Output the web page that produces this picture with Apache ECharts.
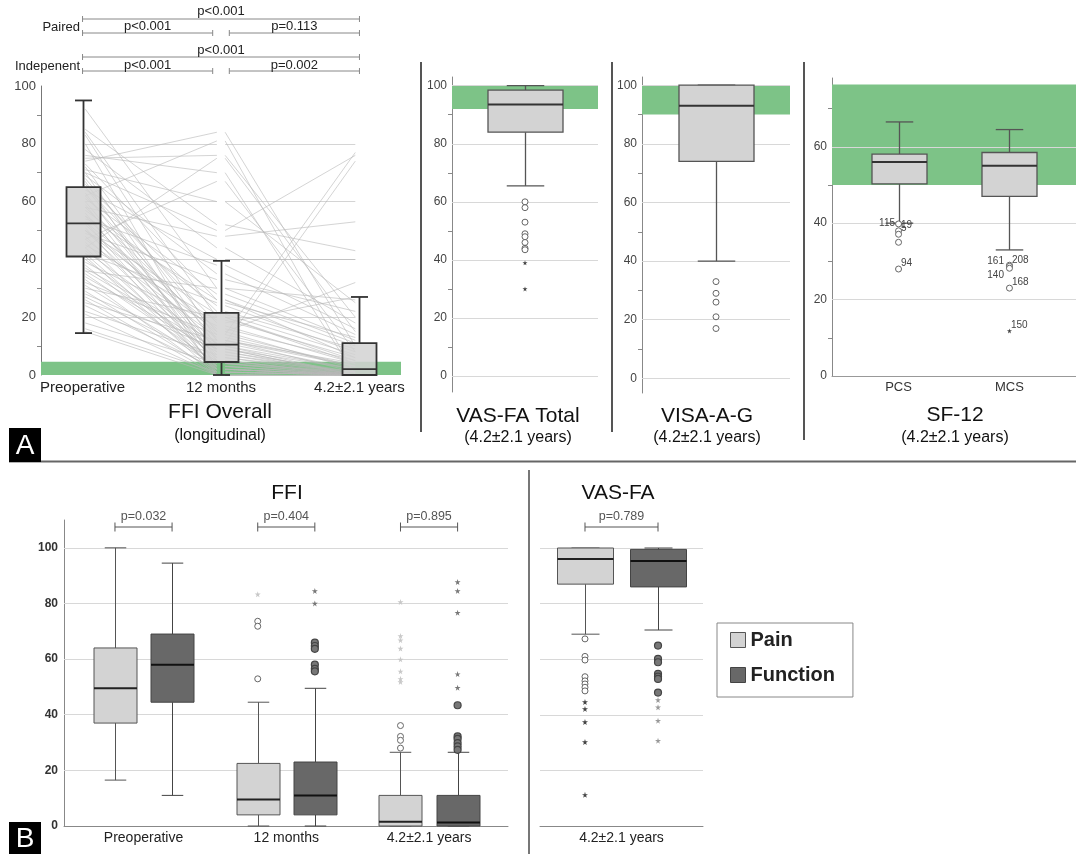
<!DOCTYPE html>
<html>
<head>
<meta charset="utf-8">
<script src="https://cdn.jsdelivr.net/npm/echarts@6/dist/echarts.min.js"></script>
<style>
  html, body { margin: 0; padding: 0; background: #fff; }
  #chart { width: 1076px; height: 854px; }
</style>
</head>
<body>
<div id="chart"></div>
<script>
// ---- data ----
const ffiTimes = ['Preoperative', '12 months', '4.2±2.1 years'];
// box stats: [min, q1, median, q3, max]
const ffiOverallBoxes = [[14.5, 41, 52.5, 65, 95], [0, 4.5, 10.5, 21.5, 39.5], [0, 0, 2, 11, 27]];
// individual patients (estimated)
const ffiPre = [92, 85, 84, 83, 80, 80, 78, 76, 75, 74, 73, 72, 71, 70, 69, 68, 67, 66, 65, 65,
  64, 63, 62, 61, 60, 60, 59, 58, 57, 56, 55, 54, 53, 53, 52, 51, 50, 50, 49, 48,
  47, 46, 45, 44, 43, 42, 41, 40, 40, 39, 38, 37, 36, 35, 34, 33, 32, 31, 30, 29,
  28, 27, 26, 25, 24, 22, 21, 20, 18, 16, 15, 58, 62, 47, 44, 55, 70, 36, 50, 42];
const ffi12m = [30, 52, 20, 12, 80, 2, 44, 70, 76, 84, 26, 10, 60, 5, 35, 15, 0, 22, 8, 18,
  40, 3, 12, 28, 60, 6, 1, 14, 24, 4, 9, 38, 2, 16, 11, 0, 21, 7, 33, 5,
  13, 1, 19, 3, 10, 25, 0, 40, 6, 17, 2, 11, 30, 4, 8, 0, 14, 3, 20, 1,
  9, 5, 0, 12, 2, 7, 0, 20, 4, 1, 0, 48, 81, 67, 75, 26, 50, 9, 15, 2];
const ffiLast = [12, 43, 4, 1, 80, 0, 18, 0, 20, 10, 6, 0, 60, 0, 14, 2, 0, 9, 0, 27,
  40, 0, 3, 11, 25, 1, 0, 77, 8, 0, 2, 16, 0, 5, 74, 0, 7, 1, 22, 0,
  3, 0, 6, 0, 2, 13, 1, 40, 0, 4, 0, 2, 26, 0, 1, 0, 3, 0, 5, 0,
  0, 0, 0, 4, 0, 0, 0, 20, 1, 0, 0, 53, 0, 8, 15, 10, 76, 0, 32, 0];
const pairedP = ['p<0.001', 'p<0.001', 'p=0.113'];
const indepP = ['p<0.001', 'p<0.001', 'p=0.002'];
const ffiMcid = [0, 4.6];

const vasTotalBox = [65.5, 84, 93.5, 98.5, 100];
const vasTotalCircles = [60, 58, 53, 49, 48, 46, 44, 43.5];
const vasTotalStars = [39, 30];
const vasTotalBand = [92, 100];

const visaBox = [40, 74, 93, 100, 100];
const visaCircles = [33, 29, 26, 21, 17];
const visaBand = [90, 100];

const sfCats = ['PCS', 'MCS'];
const sfBoxes = [[40, 50.3, 56, 58.1, 66.5], [33, 47, 55, 58.5, 64.5]];
const pcsOutliers = [39.8, 38, 37.1, 35, 28];
const pcsIds = ['115', '19', '5', '', '94'];
const mcsOutliers = [29, 28.7, 28.2, 23];
const mcsIds = ['161', '208', '140', '168'];
const mcsStars = [11.8];
const mcsStarIds = ['150'];
const sfBand = [50, 76.3];

const painBoxes = [[16.5, 37, 49.5, 64, 100], [0, 4, 9.5, 22.5, 44.5], [0, 0, 1.5, 11, 26.5]];
const funcBoxes = [[11, 44.5, 58, 69, 94.5], [0, 4, 11, 23, 49.5], [0, 0, 1.3, 11, 26.5]];
const painCircles = [[], [73.6, 71.8, 52.9], [36.1, 32.2, 30.8, 28]];
const painStars = [[], [83.3], [80.5, 68.3, 66.8, 63.8, 59.9, 55.6, 52.9, 51.8]];
const funcCircles = [[], [65.9, 64.7, 63.7, 58, 56.5, 55.6], [43.4, 32.2, 31.3, 29.8, 28.6, 27.4]];
const funcStars = [[], [84.5, 80], [87.7, 84.5, 76.7, 54.6, 49.7]];
const ffiPairP = ['p=0.032', 'p=0.404', 'p=0.895'];

const vasPainBox = [69, 87, 96, 100, 100];
const vasFuncBox = [70.5, 86, 95.3, 99.5, 100];
const vasPainCircles = [67.3, 61, 59.7, 53.7, 52.2, 51.1, 49.9, 48.6];
const vasPainStars = [44.6, 42.1, 37.4, 30.2, 11.2];
const vasFuncCircles = [64.9, 60.1, 58.9, 54.7, 53.7, 52.9, 48];
const vasFuncStars = [45.3, 42.7, 37.9, 30.7];
const vasPairP = 'p=0.789';

const labelTicks100 = [0, 20, 40, 60, 80, 100];
const minorTicks100 = [10, 30, 50, 70, 90];
const labelTicksSf = [0, 20, 40, 60];
const minorTicksSf = [10, 30, 50, 70];

// ---- drawing ----
const FONT = '"Liberation Sans", Arial, Helvetica, sans-serif';
const GREEN = '#7dc387';
const GRIDC = '#d8d8d8';
const STAR = 'path://M50 0 L61 35 L98 35 L68 57 L79 91 L50 70 L21 91 L32 57 L2 35 L39 35 Z';

const chart = echarts.init(document.getElementById('chart'));

function boxSeries(name, gi, data, o) {
  return {
    type: 'custom', name: name, xAxisIndex: gi, yAxisIndex: gi, z: 3, silent: true,
    data: data,
    encode: { x: 0, y: [1, 2, 3, 4, 5] },
    itemStyle: { color: o.fill, borderColor: o.stroke },
    renderItem: function (params, api) {
      const x = api.value(0);
      const y = [1, 2, 3, 4, 5].map(i => api.coord([x, api.value(i)])[1]);
      const cx = Math.round(api.coord([x, 0])[0]) + 0.5;
      const w = o.width, c = w / 2;
      const ln = { stroke: o.stroke, lineWidth: o.lw };
      const seg = (x1, y1, x2, y2, st) => ({ type: 'line', shape: { x1, y1, x2, y2 }, style: st || ln });
      return {
        type: 'group',
        children: [
          seg(cx, y[0], cx, y[1]),
          seg(cx, y[3], cx, y[4]),
          seg(cx - c / 2, y[0], cx + c / 2, y[0]),
          seg(cx - c / 2, y[4], cx + c / 2, y[4]),
          { type: 'rect', shape: { x: cx - w / 2, y: y[3], width: w, height: y[1] - y[3] },
            style: { fill: o.fill, stroke: o.stroke, lineWidth: o.lw } },
          seg(cx - w / 2, y[2], cx + w / 2, y[2], { stroke: o.median, lineWidth: o.mw })
        ]
      };
    }
  };
}

function points(gi, x, vals, o) {
  const s = {
    type: 'scatter', xAxisIndex: gi, yAxisIndex: gi, z: 4, silent: true,
    symbol: o.symbol, symbolSize: o.size,
    itemStyle: { color: o.fill, borderColor: o.stroke, borderWidth: o.bw || 0, opacity: 1 },
    data: vals.map(v => [x, v])
  };
  if (o.band) {
    s.markArea = {
      silent: true, z: 1, itemStyle: { color: GREEN, opacity: 1 },
      data: [[{ yAxis: o.band[0] }, { yAxis: o.band[1] }]]
    };
  }
  if (o.gridLines) {
    s.markLine = {
      silent: true, z: 2, symbol: 'none', animation: false,
      label: { show: false },
      lineStyle: { color: GRIDC, type: 'solid', width: 1 },
      data: o.gridLines.map(v => ({ yAxis: v }))
    };
  }
  return s;
}

const hollow = { symbol: 'circle', size: 6, fill: '#fff', stroke: '#666', bw: 1 };
const dark = { symbol: 'circle', size: 7, fill: '#777', stroke: '#444', bw: 1.2 };
const starStyle = (color, size) => ({ symbol: STAR, size: size || 6, fill: color });

function yAx(gi, min, max, labels, ticks, extra) {
  return Object.assign({
    gridIndex: gi, type: 'value', min: min, max: max,
    axisLine: { show: true, onZero: false, lineStyle: { color: '#888', width: 1 } },
    axisTick: ticks ? { show: true, customValues: ticks, length: 4, lineStyle: { color: '#888' } } : { show: false },
    axisLabel: labels ? { customValues: labels, fontSize: 12, color: '#444', margin: 5, fontFamily: FONT } : { show: false },
    splitLine: { show: false }
  }, extra || {});
}

function xAx(gi, min, max, cats, extra) {
  return Object.assign({
    gridIndex: gi, type: 'value', min: min, max: max,
    axisLine: { show: true, onZero: false, lineStyle: { color: '#888' } },
    axisTick: { show: false },
    splitLine: { show: false },
    axisLabel: cats ? {
      customValues: cats.map((c, i) => i),
      formatter: v => cats[Math.round(v)],
      fontSize: 14, color: '#222', margin: 5, fontFamily: FONT
    } : { show: false }
  }, extra || {});
}

const spaghetti = [];
ffiPre.forEach((p, i) => {
  spaghetti.push({ coords: [[0.02, p], [0.97, ffi12m[i]]] });
  spaghetti.push({ coords: [[1.03, ffi12m[i]], [1.97, ffiLast[i]]] });
});

const painStyle = { width: 43, fill: '#d3d3d3', stroke: '#555', lw: 1, median: '#222', mw: 2 };
const funcStyle = { width: 43, fill: '#686868', stroke: '#444', lw: 1, median: '#111', mw: 2 };

const series = [
  // Panel A: FFI overall
  {
    type: 'lines', coordinateSystem: 'cartesian2d', xAxisIndex: 0, yAxisIndex: 0, z: 2, silent: true,
    polyline: false,
    lineStyle: { color: '#b8b8b8', width: 1, opacity: 0.6 },
    data: spaghetti,
    markArea: { silent: true, z: 1, itemStyle: { color: GREEN, opacity: 1 },
      data: [[{ yAxis: ffiMcid[0] }, { yAxis: ffiMcid[1] }]] }
  },
  boxSeries('ffiOverall', 0, ffiOverallBoxes.map((b, i) => [i].concat(b)),
    { width: 34, fill: 'rgba(210,210,210,0.85)', stroke: '#333', lw: 1.8, median: '#333', mw: 1.8 }),
  // VAS-FA total
  points(1, 0, vasTotalCircles, Object.assign({ band: vasTotalBand, gridLines: labelTicks100 }, hollow)),
  points(1, 0, vasTotalStars, starStyle('#444', 5)),
  boxSeries('vasTotal', 1, [[0].concat(vasTotalBox)],
    { width: 75, fill: '#d3d3d3', stroke: '#555', lw: 1.3, median: '#333', mw: 2 }),
  // VISA-A-G
  points(2, 0, visaCircles, Object.assign({ band: visaBand, gridLines: labelTicks100 }, hollow)),
  boxSeries('visa', 2, [[0].concat(visaBox)],
    { width: 75, fill: '#d3d3d3', stroke: '#555', lw: 1.3, median: '#333', mw: 2 }),
  // SF-12
  boxSeries('sf12', 3, sfBoxes.map((b, i) => [i].concat(b)),
    { width: 55, fill: '#d3d3d3', stroke: '#555', lw: 1.3, median: '#333', mw: 2 })
];

const leftLabels = { '115': [2, -1], '161': [0, -4], '140': [0, 7] };
function sfPoints(x, vals, ids, style, extra) {
  const s = points(3, x, vals, Object.assign({}, extra || {}, style));
  s.data = vals.map((v, i) => {
    const id = ids[i];
    const left = leftLabels[id];
    return {
      value: [x, v], name: id,
      label: { show: id !== '', position: left ? 'left' : 'right',
        offset: left ? left : [-3, -6], distance: 2 }
    };
  });
  s.label = { show: true, formatter: '{b}', fontSize: 10, color: '#444', fontFamily: FONT };
  return s;
}
series.push(sfPoints(0, pcsOutliers, pcsIds, hollow, { band: sfBand, gridLines: [20, 40, 60] }));
series.push(sfPoints(1, mcsOutliers, mcsIds, hollow));
series.push(sfPoints(1, mcsStars, mcsStarIds, starStyle('#444', 5)));

// Panel B: FFI pain vs function
const pOff = 0.2;
series.push(boxSeries('Pain', 4, painBoxes.map((b, i) => [i - pOff].concat(b)), painStyle));
series.push(boxSeries('Function', 4, funcBoxes.map((b, i) => [i + pOff].concat(b)), funcStyle));
ffiTimes.forEach((t, i) => {
  const first = i === 0 ? { gridLines: [20, 40, 60, 80, 100] } : {};
  series.push(points(4, i - pOff, painCircles[i], Object.assign({}, first, hollow)));
  series.push(points(4, i - pOff, painStars[i], starStyle('#c8c8c8')));
  series.push(points(4, i + pOff, funcCircles[i], dark));
  series.push(points(4, i + pOff, funcStars[i], starStyle('#777')));
});
// Panel B: VAS-FA pain vs function
const vOff = 0.224;
series.push(boxSeries('Pain', 5, [[-vOff].concat(vasPainBox)], Object.assign({}, painStyle, { width: 56 })));
series.push(boxSeries('Function', 5, [[vOff].concat(vasFuncBox)], Object.assign({}, funcStyle, { width: 56 })));
series.push(points(5, -vOff, vasPainCircles, Object.assign({ gridLines: [20, 40, 60, 80, 100] }, hollow)));
series.push(points(5, -vOff, vasPainStars, starStyle('#444')));
series.push(points(5, vOff, vasFuncCircles, dark));
series.push(points(5, vOff, vasFuncStars, starStyle('#999')));

const option = {
  backgroundColor: '#fff',
  animation: false,
  textStyle: { fontFamily: FONT },
  legend: {
    orient: 'vertical', left: 717, top: 623,
    selectedMode: false, icon: 'rect',
    itemWidth: 15, itemHeight: 15, itemGap: 13,
    padding: [6, 18, 11, 13],
    borderColor: '#888', borderWidth: 1,
    textStyle: { fontSize: 20, fontWeight: 'bold', color: '#222', lineHeight: 22, fontFamily: FONT },
    data: [
      { name: 'Pain', itemStyle: { color: '#d3d3d3', borderColor: '#555', borderWidth: 1 } },
      { name: 'Function', itemStyle: { color: '#686868', borderColor: '#444', borderWidth: 1 } }
    ]
  },
  grid: [
    { left: 41, top: 86, width: 360, height: 289, outerBoundsMode: 'none' },
    { left: 452, top: 77, width: 146, height: 315, outerBoundsMode: 'none' },
    { left: 642, top: 77, width: 148, height: 316, outerBoundsMode: 'none' },
    { left: 832, top: 78, width: 244, height: 298, outerBoundsMode: 'none' },
    { left: 64, top: 520, width: 444, height: 306, outerBoundsMode: 'none' },
    { left: 540, top: 548, width: 163, height: 278, outerBoundsMode: 'none' }
  ],
  xAxis: [
    xAx(0, -0.3, 2.3, ffiTimes, { axisLine: { show: false } }),
    xAx(1, -0.5, 0.5, null, { show: false }),
    xAx(2, -0.5, 0.5, null, { show: false }),
    xAx(3, -0.6, 1.6, sfCats, { axisLine: { show: true, onZero: false, lineStyle: { color: '#999' } } }),
    xAx(4, -0.557, 2.553, ffiTimes),
    xAx(5, -0.5, 0.5, ['4.2±2.1 years'])
  ],
  yAxis: [
    yAx(0, 0, 100, labelTicks100, minorTicks100),
    yAx(1, -5.5, 103, labelTicks100, minorTicks100),
    yAx(2, -5, 102.8, labelTicks100, minorTicks100),
    yAx(3, 0, 78, labelTicksSf, minorTicksSf),
    yAx(4, 0, 110, labelTicks100, null),
    yAx(5, 0, 100, null, null, { axisLine: { show: false } })
  ],
  series: series
};
option.yAxis[0].axisLabel.fontSize = 13;
option.yAxis[0].axisLine.lineStyle.color = '#777';
option.yAxis[4].axisLabel.fontWeight = 'bold';
option.yAxis[4].axisLabel.color = '#333';
option.yAxis[4].axisLabel.margin = 6;
option.xAxis[0].axisLabel.fontSize = 15;
option.xAxis[3].axisLabel.fontSize = 13;
option.xAxis[3].axisLabel.color = '#333';

chart.setOption(option);

// ---- annotations (brackets, titles, panel frames) ----
function txt(x, y, text, size, opts) {
  const o = opts || {};
  return {
    type: 'text', x: x, y: y, silent: true, z: 10,
    style: {
      text: text, fontSize: size, fontFamily: FONT, fontWeight: o.weight || 'normal',
      fill: o.color || '#111', textAlign: o.align || 'center', align: o.align || 'center',
      textVerticalAlign: 'middle', verticalAlign: 'middle'
    }
  };
}
function hline(x1, x2, y, color, w) {
  return { type: 'line', silent: true, z: 10, shape: { x1: x1, y1: y, x2: x2, y2: y },
    style: { stroke: color, lineWidth: w || 1 } };
}
function vline(x, y1, y2, color, w) {
  return { type: 'line', silent: true, z: 10, shape: { x1: x, y1: y1, x2: x, y2: y2 },
    style: { stroke: color, lineWidth: w || 1 } };
}
function bracket(x1, x2, y, label, textY, tick, size, color, textColor) {
  return [
    hline(x1, x2, y, color),
    vline(x1, y - tick, y + tick, color),
    vline(x2, y - tick, y + tick, color),
    txt((x1 + x2) / 2, textY, label, size, { color: textColor })
  ];
}
const px = (gi, v) => chart.convertToPixel({ xAxisIndex: gi }, v);

let g = [];
// panel A brackets
[[19, 11, 33, 26, pairedP], [57, 50, 71, 65, indepP]].forEach(r => {
  g = g.concat(bracket(px(0, 0), px(0, 2), r[0], r[4][0], r[1], 3, 13, '#888', '#222'));
  g = g.concat(bracket(px(0, 0), px(0, 0.94), r[2], r[4][1], r[3], 3, 13, '#888', '#222'));
  g = g.concat(bracket(px(0, 1.06), px(0, 2), r[2], r[4][2], r[3], 3, 13, '#888', '#222'));
});
g.push(txt(80, 27, 'Paired', 13, { align: 'right', color: '#222' }));
g.push(txt(80, 66, 'Indepenent', 13, { align: 'right', color: '#222' }));
// panel B brackets
ffiPairP.forEach((p, i) => {
  g = g.concat(bracket(px(4, i - pOff), px(4, i + pOff), 527, p, 517, 4.5, 12.5, '#555', '#555'));
});
g = g.concat(bracket(px(5, -vOff), px(5, vOff), 527, vasPairP, 517, 4.5, 12.5, '#555', '#555'));

// titles
g.push(txt(220, 412, 'FFI Overall', 21));
g.push(txt(220, 436, '(longitudinal)', 16));
g.push(txt(518, 416, 'VAS-FA Total', 21));
g.push(txt(518, 438, '(4.2±2.1 years)', 16));
g.push(txt(707, 416, 'VISA-A-G', 21));
g.push(txt(707, 438, '(4.2±2.1 years)', 16));
g.push(txt(955, 415, 'SF-12', 21));
g.push(txt(955, 438, '(4.2±2.1 years)', 16));
g.push(txt(287, 493, 'FFI', 21));
g.push(txt(618, 493, 'VAS-FA', 21));

// frames and panel letters
g.push(vline(421, 62, 432, '#555', 2));
g.push(vline(612, 62, 432, '#555', 2));
g.push(vline(804, 62, 440, '#555', 2));
g.push(hline(9, 1076, 461.5, '#666', 2));
g.push(vline(529, 470, 854, '#777', 2));
g.push({ type: 'rect', silent: true, z: 10, shape: { x: 9, y: 428, width: 32, height: 34 }, style: { fill: '#000' } });
g.push(txt(25, 446, 'A', 28, { color: '#fff' }));
g.push({ type: 'rect', silent: true, z: 10, shape: { x: 9, y: 822, width: 32, height: 32 }, style: { fill: '#000' } });
g.push(txt(25, 839, 'B', 28, { color: '#fff' }));

chart.setOption({ graphic: g });
</script>
</body>
</html>
